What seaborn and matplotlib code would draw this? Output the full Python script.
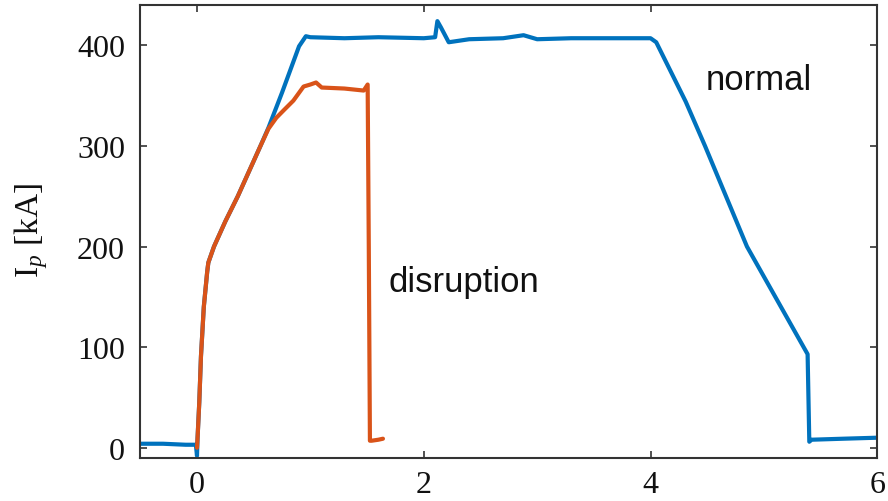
import numpy as np
import pandas as pd
import matplotlib
matplotlib.use("Agg")
import matplotlib.pyplot as plt
import seaborn as sns

# Normal discharge (blue)
normal_t = [-0.5, -0.3, -0.1, -0.01, 0.0, 0.005, 0.02, 0.035, 0.06, 0.09, 0.10,
            0.15, 0.25, 0.36, 0.46, 0.56, 0.63, 0.75, 0.90, 0.96, 1.0, 1.3,
            1.6, 2.0, 2.10, 2.12, 2.15, 2.22, 2.4, 2.7, 2.88, 3.0, 3.3, 3.7,
            4.0, 4.05, 4.31, 4.48, 4.85, 5.1, 5.35, 5.385, 5.40, 5.42, 5.7, 6.0]
normal_ip = [4, 4, 3, 3, -8, 10, 45, 91, 140, 175, 184,
             200, 225, 250, 275, 300, 318, 353, 399, 409, 408, 407,
             408, 407, 408, 424, 418, 403, 406, 407, 410, 406, 407, 407,
             407, 403, 344, 300, 200, 150, 100, 93, 6, 8, 9, 10]

# Disruptive discharge (orange)
disr_t = [0.0, 0.005, 0.02, 0.035, 0.06, 0.09, 0.10, 0.15, 0.25, 0.36, 0.46,
          0.56, 0.63, 0.70, 0.77, 0.85, 0.94, 1.0, 1.05, 1.1, 1.3, 1.47,
          1.505, 1.515, 1.525, 1.54, 1.6, 1.64]
disr_ip = [0, 10, 45, 91, 140, 175, 184, 200, 225, 250, 275,
           300, 317, 328, 336, 345, 359, 361, 363, 358, 357, 355,
           361, 200, 7, 7, 8, 9]

labels = ["normal", "disruption"]
colors = ["#0072BD", "#D95319"]

df = pd.concat([
    pd.DataFrame({"t": normal_t, "ip": normal_ip, "shot": labels[0]}),
    pd.DataFrame({"t": disr_t, "ip": disr_ip, "shot": labels[1]}),
], ignore_index=True)

sns.set_style("ticks")
plt.rcParams["font.family"] = ["Liberation Serif", "DejaVu Serif"]
plt.rcParams["mathtext.fontset"] = "custom"
plt.rcParams["mathtext.rm"] = "Liberation Serif"
plt.rcParams["mathtext.it"] = "Liberation Serif:italic"

fig = plt.figure(figsize=(8.88, 5.02), dpi=100)
ax = fig.add_axes([0.158, 0.086, 0.830, 0.902])

sns.lineplot(data=df, x="t", y="ip", hue="shot", palette=colors,
             hue_order=labels, sort=False, estimator=None,
             linewidth=3.0, legend=False, ax=ax)

ax.set_xlim(-0.5, 6)
ax.set_ylim(-10, 440)
ax.set_xticks([0, 2, 4, 6])
ax.set_yticks([0, 100, 200, 300, 400])
ax.tick_params(direction="in", length=5, width=1.2, top=True, right=True,
               labelsize=23, colors="#333333", labelcolor="#111111")
ax.tick_params(axis="y", pad=11)
ax.tick_params(axis="x", pad=9)
for s in ax.spines.values():
    s.set_visible(True)
    s.set_linewidth(1.5)
    s.set_color("#333333")

ax.set_xlabel("")
ax.set_ylabel(r"I$_p$ [kA]", fontsize=24, color="#111111")
ax.yaxis.set_label_coords(-0.122, 0.505)

ax.text(4.49, 366, "normal", fontsize=25, family=["Liberation Sans", "DejaVu Sans"],
        va="center", ha="left", color="#111111")
ax.text(1.69, 165, "disruption", fontsize=25, family=["Liberation Sans", "DejaVu Sans"],
        va="center", ha="left", color="#111111")

fig.savefig("out.png", dpi=100)
